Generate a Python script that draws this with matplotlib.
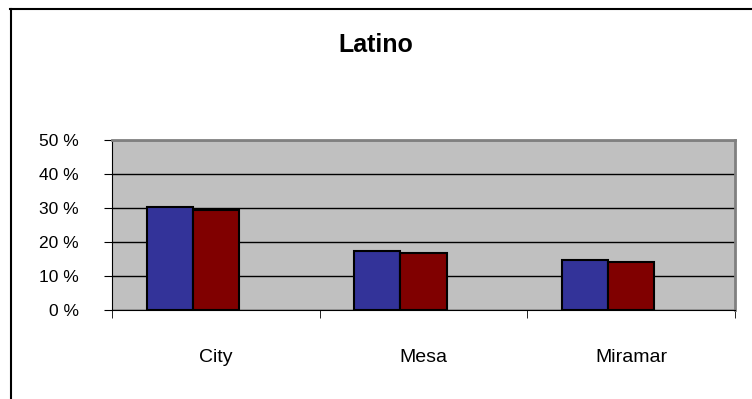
import numpy as np
import matplotlib.pyplot as plt
from matplotlib.lines import Line2D

# data
categories = ["City", "Mesa", "Miramar"]
series_a = [30.2, 17.3, 14.6]
series_b = [29.5, 16.7, 14.0]
yticks = [0, 10, 20, 30, 40, 50]
ytick_labels = ["0 %", "10 %", "20 %", "30 %", "40 %", "50 %"]

plt.rcParams['font.family'] = ['Liberation Sans', 'DejaVu Sans']

fig = plt.figure(figsize=(7.52, 3.99), dpi=100)
ax = fig.add_axes([112/752, 1-310/399, (735-112)/752, (310-140)/399])
ax.set_facecolor('#C0C0C0')

x = np.arange(len(categories))
w = 1/4.5  # excel gap width 150 with 3 series slots
ax.bar(x - w, series_a, width=w, color='#333399', edgecolor='black', linewidth=1.5, zorder=3)
ax.bar(x, series_b, width=w, color='#800000', edgecolor='black', linewidth=1.5, zorder=3)

ax.set_xlim(-0.5, len(categories) - 0.5)
ax.set_ylim(0, 50)
ax.set_yticks(yticks)
ax.set_yticklabels(ytick_labels, fontsize=12.5)
ax.yaxis.grid(True, color='black', linewidth=1, zorder=1)
ax.set_axisbelow(True)

ax.set_xticks(x)
ax.set_xticklabels(categories, fontsize=14)
ax.set_xticks(np.arange(len(categories) + 1) - 0.5, minor=True)
ax.tick_params(axis='x', which='major', length=0, pad=28)
ax.tick_params(axis='x', which='minor', length=6, direction='out', color='black')
ax.tick_params(axis='y', length=6, direction='out', pad=18)

for s in ['top', 'right']:
    ax.spines[s].set_color('#808080')
    ax.spines[s].set_linewidth(2)
ax.spines['left'].set_color('black')
ax.spines['bottom'].set_color('black')

fig.text(376/752, 1-45/399, "Latino", ha='center', va='center', fontsize=18, fontweight='bold')

# outer frame lines
fig.add_artist(Line2D([10/752, 1], [1-9/399, 1-9/399], color='black', linewidth=1.5))
fig.add_artist(Line2D([11/752, 11/752], [0, 1-9/399], color='black', linewidth=1.5))

fig.savefig("out.png", dpi=100)
